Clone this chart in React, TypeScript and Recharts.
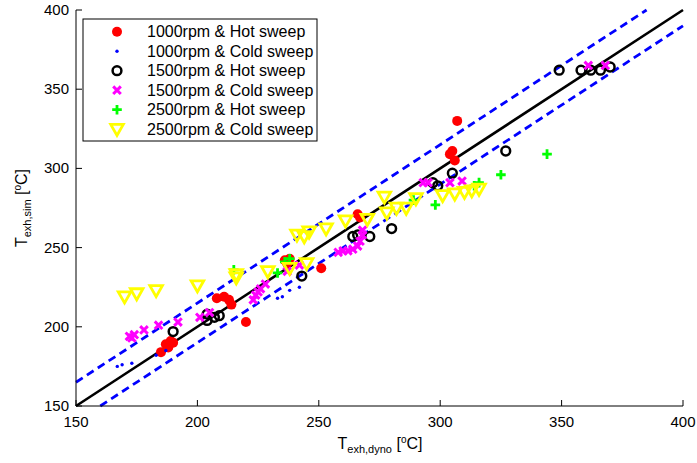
import React from 'react';
import { ScatterChart, Scatter, XAxis, YAxis, ReferenceLine, Customized } from 'recharts';

const W = 697;
const H = 463;
const PLOT = { left: 76, top: 10, right: 683, bottom: 406 };
const FONT = '"Liberation Sans", Arial, Helvetica, sans-serif';

const X_TICKS = [150, 200, 250, 300, 350, 400];
const Y_TICKS = [150, 200, 250, 300, 350, 400];
const DOMAIN: [number, number] = [150, 400];
const BAND_UP = 15;
const BAND_LOW = -10;

// [T_dyno, T_sim]
const hot1000 = [
  [185, 184], [187, 189], [189, 191], [188, 187], [190, 190], [208, 218], [211, 219], [213, 217],
  [214, 214], [220, 203], [236, 242], [238, 243], [237, 240], [251, 237], [266, 271], [267, 269],
  [304, 309], [305, 311], [306, 305], [307, 330],
];
const cold1000 = [
  [167, 175], [169, 176], [173, 177], [183, 182], [187, 185], [233, 218], [235, 219], [238, 223],
  [242, 225], [260, 248], [263, 250],
];
const hot1500 = [
  [190, 197], [204, 204], [204, 208], [207, 206], [209, 207], [243, 232], [264, 257], [266, 258],
  [271, 257], [280, 262], [297, 291], [299, 289], [305, 297], [327, 311], [349, 362], [358, 362],
  [362, 362], [366, 362], [370, 364],
];
const cold1500 = [
  [172, 194], [173, 193], [174, 195], [178, 198], [184, 201], [192, 203], [201, 206], [205, 209],
  [223, 217], [224, 220], [225, 222], [226, 224], [228, 227], [237, 235], [242, 239], [258, 247],
  [260, 248], [262, 248], [264, 249], [266, 251], [267, 254], [268, 258], [268, 261], [293, 291],
  [295, 291], [304, 291], [309, 292], [361, 365], [368, 365],
];
const hot2500 = [
  [215, 236], [233, 234], [236, 241], [238, 243], [289, 280], [298, 277], [314, 289], [316, 291],
  [325, 296], [344, 309],
];
const cold2500 = [
  [170, 219], [175, 221], [183, 223], [200, 226], [216, 231], [216, 233], [229, 235], [238, 237],
  [245, 240], [241, 258], [244, 257], [246, 260], [253, 262], [261, 267], [270, 268], [277, 282],
  [278, 272], [282, 275], [286, 275], [290, 281], [301, 283], [306, 284], [310, 285], [313, 286],
  [316, 287],
];

const SERIES = [
  { name: '1000rpm & Hot sweep', data: hot1000, kind: 'dot' },
  { name: '1000rpm & Cold sweep', data: cold1000, kind: 'point' },
  { name: '1500rpm & Hot sweep', data: hot1500, kind: 'ring' },
  { name: '1500rpm & Cold sweep', data: cold1500, kind: 'cross' },
  { name: '2500rpm & Hot sweep', data: hot2500, kind: 'plus' },
  { name: '2500rpm & Cold sweep', data: cold2500, kind: 'tri' },
];

const toPoints = (rows: number[][]) => rows.map(([x, y]) => ({ x, y }));

function Mark({ kind, cx, cy }: { kind: string; cx: number; cy: number }) {
  if (cx == null || cy == null) return null;
  switch (kind) {
    case 'dot':
      return <circle cx={cx} cy={cy} r={5} fill="#ff0000" />;
    case 'point':
      return <circle cx={cx} cy={cy} r={1.7} fill="#0000ff" />;
    case 'ring':
      return <circle cx={cx} cy={cy} r={4.4} fill="none" stroke="#000" strokeWidth={2.5} />;
    case 'cross':
      return (
        <path
          d={`M${cx - 3.8},${cy - 3.8}L${cx + 3.8},${cy + 3.8}M${cx + 3.8},${cy - 3.8}L${cx - 3.8},${cy + 3.8}`}
          stroke="#ff00ff"
          strokeWidth={3}
        />
      );
    case 'plus':
      return (
        <path
          d={`M${cx - 4.8},${cy}H${cx + 4.8}M${cx},${cy - 4.8}V${cy + 4.8}`}
          stroke="#00ff00"
          strokeWidth={2.8}
        />
      );
    default:
      return (
        <polygon
          points={`${cx - 6.3},${cy - 4.8} ${cx + 6.3},${cy - 4.8} ${cx},${cy + 6.3}`}
          fill="none"
          stroke="#ffff00"
          strokeWidth={2.8}
        />
      );
  }
}

const BottomTick = ({ x, payload }: any) => (
  <g>
    <line x1={x} x2={x} y1={PLOT.bottom} y2={PLOT.bottom - 6} stroke="#000" />
    <text x={x} y={PLOT.bottom + 21} textAnchor="middle" fontSize={15} fontFamily={FONT} fill="#000">
      {payload.value}
    </text>
  </g>
);
const TopTick = ({ x }: any) => (
  <line x1={x} x2={x} y1={PLOT.top} y2={PLOT.top + 6} stroke="#000" />
);
const LeftTick = ({ y, payload }: any) => (
  <g>
    <line x1={PLOT.left} x2={PLOT.left + 6} y1={y} y2={y} stroke="#000" />
    <text x={PLOT.left - 7} y={y + 5} textAnchor="end" fontSize={15} fontFamily={FONT} fill="#000">
      {payload.value}
    </text>
  </g>
);
const RightTick = ({ y }: any) => (
  <line x1={PLOT.right} x2={PLOT.right - 6} y1={y} y2={y} stroke="#000" />
);

function Decorations() {
  const lx = 83;
  const ly = 19;
  return (
    <g fontFamily={FONT} fill="#000">
      <rect x={lx} y={ly} width={234} height={122} fill="#fff" stroke="#000" strokeWidth={1} />
      {SERIES.map((s, i) => {
        const cy = ly + 12.7 + i * 19.5;
        return (
          <g key={s.name}>
            <Mark kind={s.kind} cx={117} cy={cy} />
            <text x={147} y={cy + 5.5} fontSize={16}>
              {s.name}
            </text>
          </g>
        );
      })}
      <text x={380} y={449} textAnchor="middle" fontSize={16}>
        T<tspan fontSize={11} dy={4}>exh,dyno</tspan>
        <tspan dy={-4}> [</tspan>
        <tspan fontSize={10} dy={-6}>o</tspan>
        <tspan dy={6}>C]</tspan>
      </text>
      <text transform="translate(27,208) rotate(-90)" textAnchor="middle" fontSize={16}>
        T<tspan fontSize={11} dy={4}>exh,sim</tspan>
        <tspan dy={-4}> [</tspan>
        <tspan fontSize={10} dy={-6}>o</tspan>
        <tspan dy={6}>C]</tspan>
      </text>
    </g>
  );
}

export default function App() {
  const [lo, hi] = DOMAIN;
  return (
    <div style={{ position: 'fixed', left: 0, top: 0, width: W, height: H, background: '#fff' }}>
      <ScatterChart
        width={W}
        height={H}
        margin={{ top: PLOT.top, right: W - PLOT.right, bottom: 27, left: 30 }}
      >
        <XAxis
          type="number"
          dataKey="x"
          domain={DOMAIN}
          ticks={X_TICKS}
          interval={0}
          height={30}
          allowDataOverflow
          axisLine={{ stroke: '#000' }}
          tickLine={false}
          tick={BottomTick}
        />
        <XAxis
          xAxisId="top"
          orientation="top"
          type="number"
          domain={DOMAIN}
          ticks={X_TICKS}
          interval={0}
          height={0}
          axisLine={{ stroke: '#000' }}
          tickLine={false}
          tick={TopTick}
        />
        <YAxis
          type="number"
          dataKey="y"
          domain={DOMAIN}
          ticks={Y_TICKS}
          interval={0}
          width={46}
          allowDataOverflow
          axisLine={{ stroke: '#000' }}
          tickLine={false}
          tick={LeftTick}
        />
        <YAxis
          yAxisId="right"
          orientation="right"
          type="number"
          domain={DOMAIN}
          ticks={Y_TICKS}
          interval={0}
          width={0}
          axisLine={{ stroke: '#000' }}
          tickLine={false}
          tick={RightTick}
        />
        {SERIES.map((s) => (
          <Scatter
            key={s.name}
            name={s.name}
            data={toPoints(s.data)}
            isAnimationActive={false}
            shape={(p: any) => <Mark kind={s.kind} cx={p.cx} cy={p.cy} />}
          />
        ))}
        <ReferenceLine
          segment={[{ x: lo, y: lo }, { x: hi, y: hi }]}
          stroke="#000"
          strokeWidth={2.6}
        />
        <ReferenceLine
          segment={[{ x: lo, y: lo + BAND_UP }, { x: hi - BAND_UP, y: hi }]}
          stroke="#0000ff"
          strokeWidth={2.8}
          strokeDasharray="8 5"
        />
        <ReferenceLine
          segment={[{ x: lo - BAND_LOW, y: lo }, { x: hi, y: hi + BAND_LOW }]}
          stroke="#0000ff"
          strokeWidth={2.8}
          strokeDasharray="8 5"
        />
        <Customized component={Decorations} />
      </ScatterChart>
    </div>
  );
}
